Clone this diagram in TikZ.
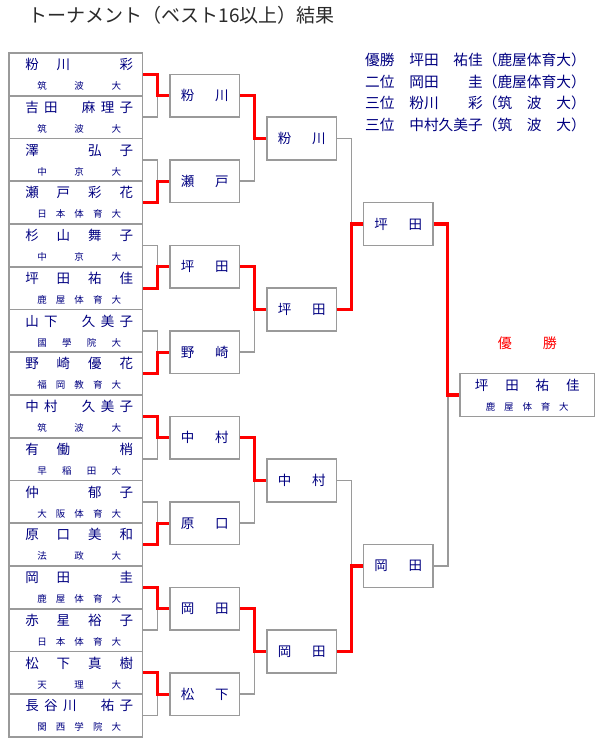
\documentclass[tikz,border=0pt]{standalone}
\usepackage{fontspec}
\setmainfont{Noto Sans CJK JP}
\usetikzlibrary{positioning}

\definecolor{navy}{HTML}{000080}
\definecolor{linegray}{HTML}{9A9A9A}
\definecolor{winred}{HTML}{FF0000}
\definecolor{titlegray}{HTML}{2A2A2A}

\newcommand\namefont{\fontsize{13.5}{20}\selectfont}
\newcommand\schoolfont{\fontsize{9.5}{20}\selectfont}
% spread the characters of a name evenly over a given width
\def\spreadfirst#1{#1\spreadloop}
\def\spreadloop#1{\ifx\relax#1\else\hfill#1\expandafter\spreadloop\fi}
\newcommand\spread[2]{\makebox[#1][l]{\spreadfirst#2\relax}}
\newcommand\entry[2]{\hspace*{7pt}\spread{108pt}{#1}\\{\schoolfont\hspace*{7pt}\spread{84pt}{#2}}}

\tikzstyle{player} = [
    rectangle, draw=linegray, line width=1.6pt,
    minimum width=133.5pt, minimum height=42.75pt, inner sep=0pt,
    text=navy, font=\namefont, align=center
]
\tikzstyle{match} = [
    rectangle, draw=linegray, line width=1.6pt,
    minimum width=69.5pt, minimum height=42.75pt, inner sep=0pt,
    text=navy, font=\namefont
]
\tikzstyle{champ} = [player, minimum width=134.5pt]
\tikzstyle{result} = [anchor=west, inner sep=0pt, text=navy, font=\fontsize{14.7}{14.7}\selectfont]
\tikzstyle{lose} = [draw=linegray, line width=1.6pt]
\tikzstyle{win} = [draw=winred, line width=3.2pt]

\begin{document}
\begin{tikzpicture}[x=1pt, y=1pt, node distance=42.75pt]
    \useasboundingbox (0,0) rectangle (600,750);

    \node (title) [anchor=west, inner sep=0pt, text=titlegray, font=\fontsize{19}{19}\selectfont] at (28,735) {トーナメント（ベスト16以上）結果};

    \node (res1) [result] at (365,690.0) {優勝　坪田　祐佳（鹿屋体育大）};
    \node (res2) [result] at (365,668.3) {二位　岡田　　圭（鹿屋体育大）};
    \node (res3) [result] at (365,646.6) {三位　粉川　　彩（筑　波　大）};
    \node (res4) [result] at (365,624.9) {三位　中村久美子（筑　波　大）};

    \node (p1) [player] at (75.75,675.625) {\entry{粉川　彩}{筑波大}};
    \node (p2) [player, below of=p1] {\entry{吉田　麻理子}{筑波大}};
    \node (p3) [player, below of=p2] {\entry{澤　弘子}{中京大}};
    \node (p4) [player, below of=p3] {\entry{瀬戸彩花}{日本体育大}};
    \node (p5) [player, below of=p4] {\entry{杉山舞子}{中京大}};
    \node (p6) [player, below of=p5] {\entry{坪田祐佳}{鹿屋体育大}};
    \node (p7) [player, below of=p6] {\entry{山下　久美子}{國學院大}};
    \node (p8) [player, below of=p7] {\entry{野崎優花}{福岡教育大}};
    \node (p9) [player, below of=p8] {\entry{中村　久美子}{筑波大}};
    \node (p10) [player, below of=p9] {\entry{有働　梢}{早稲田大}};
    \node (p11) [player, below of=p10] {\entry{仲　郁子}{大阪体育大}};
    \node (p12) [player, below of=p11] {\entry{原口美和}{法政大}};
    \node (p13) [player, below of=p12] {\entry{岡田　圭}{鹿屋体育大}};
    \node (p14) [player, below of=p13] {\entry{赤星裕子}{日本体育大}};
    \node (p15) [player, below of=p14] {\entry{松下真樹}{天理大}};
    \node (p16) [player, below of=p15] {\entry{長谷川　祐子}{関西学院大}};

    \node (r1) [match] at (204.75,654.25) {\spread{48pt}{粉川}};
    \node (r2) [match] at (204.75,568.75) {\spread{48pt}{瀬戸}};
    \node (r3) [match] at (204.75,483.25) {\spread{48pt}{坪田}};
    \node (r4) [match] at (204.75,397.75) {\spread{48pt}{野崎}};
    \node (r5) [match] at (204.75,312.25) {\spread{48pt}{中村}};
    \node (r6) [match] at (204.75,226.75) {\spread{48pt}{原口}};
    \node (r7) [match] at (204.75,141.25) {\spread{48pt}{岡田}};
    \node (r8) [match] at (204.75,55.75) {\spread{48pt}{松下}};

    \node (q1) [match] at (301.75,611.5) {\spread{48pt}{粉川}};
    \node (q2) [match] at (301.75,440.5) {\spread{48pt}{坪田}};
    \node (q3) [match] at (301.75,269.5) {\spread{48pt}{中村}};
    \node (q4) [match] at (301.75,98.5) {\spread{48pt}{岡田}};

    \node (s1) [match] at (398.25,526) {\spread{48pt}{坪田}};
    \node (s2) [match] at (398.25,184) {\spread{48pt}{岡田}};

    \node (winlabel) [text=winred, font=\fontsize{14}{14}\selectfont] at (527.25,407) {\spread{59pt}{優勝}};
    \node (champ) [champ] at (527.25,355) {\hspace*{0pt}\spread{105pt}{坪田祐佳}\\{\schoolfont\spread{83pt}{鹿屋体育大}}};

    % first round
    \draw [lose] (p2.east) -- ++(14,0) |- (r1.west);
    \draw [win] (p1.east) -- ++(14,0) |- (r1.west);
    \draw [lose] (p3.east) -- ++(14,0) |- (r2.west);
    \draw [win] (p4.east) -- ++(14,0) |- (r2.west);
    \draw [lose] (p5.east) -- ++(14,0) |- (r3.west);
    \draw [win] (p6.east) -- ++(14,0) |- (r3.west);
    \draw [lose] (p7.east) -- ++(14,0) |- (r4.west);
    \draw [win] (p8.east) -- ++(14,0) |- (r4.west);
    \draw [lose] (p10.east) -- ++(14,0) |- (r5.west);
    \draw [win] (p9.east) -- ++(14,0) |- (r5.west);
    \draw [lose] (p11.east) -- ++(14,0) |- (r6.west);
    \draw [win] (p12.east) -- ++(14,0) |- (r6.west);
    \draw [lose] (p14.east) -- ++(14,0) |- (r7.west);
    \draw [win] (p13.east) -- ++(14,0) |- (r7.west);
    \draw [lose] (p16.east) -- ++(14,0) |- (r8.west);
    \draw [win] (p15.east) -- ++(14,0) |- (r8.west);

    % second round
    \draw [lose] (r2.east) -- ++(14,0) |- (q1.west);
    \draw [win] (r1.east) -- ++(14,0) |- (q1.west);
    \draw [lose] (r4.east) -- ++(14,0) |- (q2.west);
    \draw [win] (r3.east) -- ++(14,0) |- (q2.west);
    \draw [lose] (r6.east) -- ++(14,0) |- (q3.west);
    \draw [win] (r5.east) -- ++(14,0) |- (q3.west);
    \draw [lose] (r8.east) -- ++(14,0) |- (q4.west);
    \draw [win] (r7.east) -- ++(14,0) |- (q4.west);

    % semifinals and final
    \draw [lose] (q1.east) -- ++(14,0) |- (s1.west);
    \draw [win] (q2.east) -- ++(14,0) |- (s1.west);
    \draw [lose] (q3.east) -- ++(14,0) |- (s2.west);
    \draw [win] (q4.east) -- ++(14,0) |- (s2.west);
    \draw [lose] (s2.east) -- ++(14,0) |- (champ.west);
    \draw [win] (s1.east) -- ++(14,0) |- (champ.west);
\end{tikzpicture}
\end{document}
